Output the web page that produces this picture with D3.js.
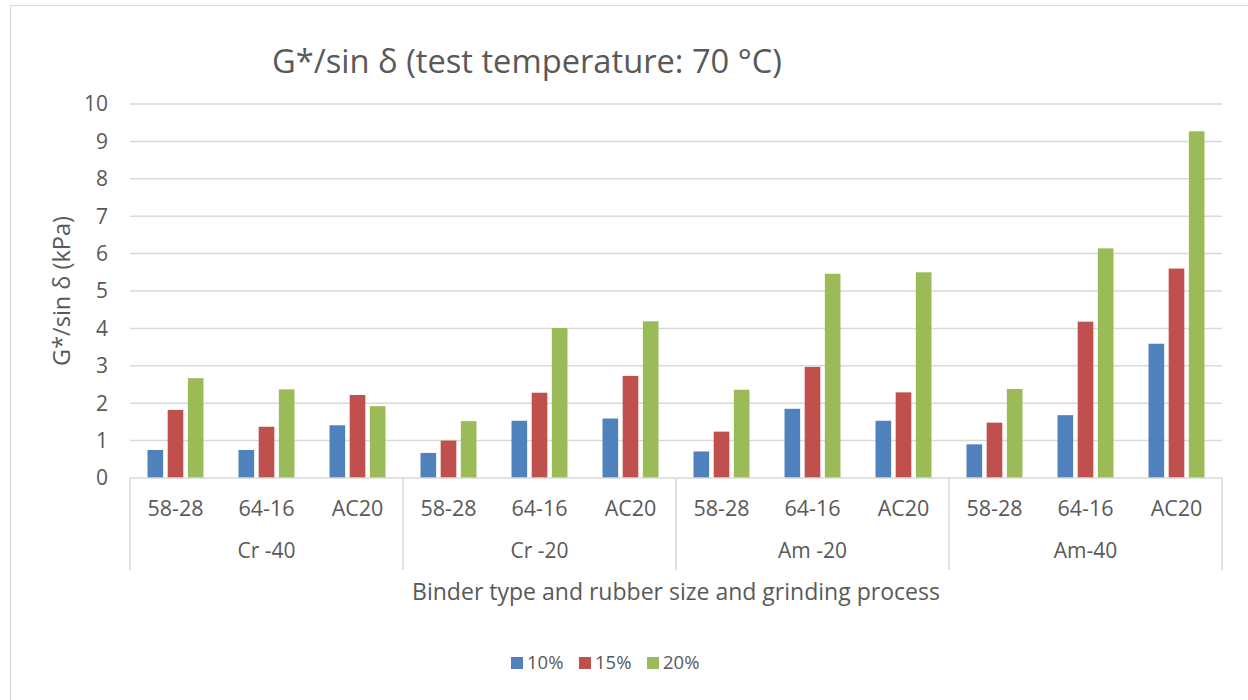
<!DOCTYPE html>
<html>
<head>
<meta charset="utf-8">
<script src="https://cdn.jsdelivr.net/npm/d3@7"></script>
<style>
  html, body { margin: 0; padding: 0; background: #fff; }
  svg { display: block; font-family: "Open Sans", "Noto Sans", sans-serif; }
</style>
</head>
<body>
<svg id="chart" width="1248" height="700"></svg>
<script>
// ---- data ----
const groups = ["Cr -40", "Cr -20", "Am -20", "Am-40"];
const binders = ["58-28", "64-16", "AC20"];
const seriesNames = ["10%", "15%", "20%"];
const seriesColors = ["#4f81bd", "#c0504d", "#9bbb59"];
// values per group, per binder (58-28, 64-16, AC20)
const values10 = [0.75, 0.75, 1.41, 0.67, 1.53, 1.59, 0.71, 1.85, 1.53, 0.90, 1.68, 3.59];
const values15 = [1.82, 1.37, 2.22, 1.00, 2.28, 2.73, 1.24, 2.97, 2.29, 1.48, 4.18, 5.60];
const values20 = [2.67, 2.37, 1.92, 1.52, 4.01, 4.19, 2.36, 5.46, 5.50, 2.38, 6.14, 9.27];
const yTicks = [0, 1, 2, 3, 4, 5, 6, 7, 8, 9, 10];
const titleText = "G*/sin δ (test temperature: 70 °C)";
const yTitle = "G*/sin δ (kPa)";
const xTitle = "Binder type and rubber size and grinding process";

// ---- layout ----
const svg = d3.select("#chart");
const textColor = "#595959";
const gridColor = "#d9d9d9";
const plot = { left: 130, right: 1222, top: 104, bottom: 478 };

const cats = [];
groups.forEach((g, gi) => binders.forEach((b, bi) => cats.push({ key: g + "|" + b, group: g, binder: b, idx: gi * 3 + bi })));
const allSeries = [values10, values15, values20];

const x = d3.scaleBand().domain(cats.map(c => c.key)).range([plot.left, plot.right]).paddingInner(0.385).paddingOuter(0.1925);
const xs = d3.scaleBand().domain(seriesNames).range([0, x.bandwidth()]).paddingInner(0.225).paddingOuter(0);
const y = d3.scaleLinear().domain([0, 10]).range([plot.bottom, plot.top]);

// outer frame
svg.append("rect").attr("x", 10.5).attr("y", 5.5).attr("width", 1250).attr("height", 700)
  .attr("fill", "none").attr("stroke", "#d9d9d9").attr("stroke-width", 1.2);

// gridlines
svg.append("g").selectAll("line").data(yTicks.filter(t => t > 0)).join("line")
  .attr("x1", plot.left).attr("x2", plot.right)
  .attr("y1", d => y(d)).attr("y2", d => y(d))
  .attr("stroke", gridColor).attr("stroke-width", 1.5);

// y tick labels
svg.append("g").selectAll("text").data(yTicks).join("text")
  .attr("x", 108).attr("y", d => y(d)).attr("dy", "0.35em")
  .attr("text-anchor", "end").attr("fill", textColor).attr("font-size", 21)
  .text(d => d);

// bars
const barG = svg.append("g");
allSeries.forEach((vals, si) => {
  barG.append("g").selectAll("rect").data(cats).join("rect")
    .attr("x", c => x(c.key) + xs(seriesNames[si]))
    .attr("width", xs.bandwidth())
    .attr("y", c => y(vals[c.idx]))
    .attr("height", c => y(0) - y(vals[c.idx]))
    .attr("fill", seriesColors[si]);
});

// category axis
const axisG = svg.append("g").attr("stroke", gridColor).attr("stroke-width", 1.5);
axisG.append("line").attr("x1", plot.left).attr("x2", plot.right).attr("y1", plot.bottom).attr("y2", plot.bottom);
const step = x.step();
const boundaries = d3.range(groups.length + 1).map(i => plot.left + i * 3 * step);
axisG.selectAll("line.sep").data(boundaries).join("line").attr("class", "sep")
  .attr("x1", d => d).attr("x2", d => d).attr("y1", plot.bottom).attr("y2", 570);

// binder labels
svg.append("g").selectAll("text").data(cats).join("text")
  .attr("x", c => x(c.key) + x.bandwidth() / 2).attr("y", 508).attr("dy", "0.35em")
  .attr("text-anchor", "middle").attr("fill", textColor).attr("font-size", 21.5)
  .text(c => c.binder);

// group labels
svg.append("g").selectAll("text").data(groups).join("text")
  .attr("x", (g, i) => (boundaries[i] + boundaries[i + 1]) / 2).attr("y", 551).attr("dy", "0.35em")
  .attr("text-anchor", "middle").attr("fill", textColor).attr("font-size", 21)
  .text(g => g);

// fit helper
function fitText(sel, targetWidth) {
  const w = sel.node().getComputedTextLength();
  const fs = parseFloat(sel.attr("font-size"));
  sel.attr("font-size", fs * targetWidth / w);
}

// title
const t = svg.append("text").attr("x", 527).attr("y", 62).attr("dy", "0.35em")
  .attr("text-anchor", "middle").attr("fill", textColor).attr("font-size", 30).text(titleText);
fitText(t, 510);

// y title
const yt = svg.append("text").attr("transform", "translate(62,291) rotate(-90)").attr("dy", "0.35em")
  .attr("text-anchor", "middle").attr("fill", textColor).attr("font-size", 20).text(yTitle);
fitText(yt, 150);

// x title
const xt = svg.append("text").attr("x", 676).attr("y", 592).attr("dy", "0.35em")
  .attr("text-anchor", "middle").attr("fill", textColor).attr("font-size", 20).text(xTitle);
fitText(xt, 528);

// legend
const legendX = [511, 579, 647];
const lg = svg.append("g").selectAll("g").data(seriesNames).join("g")
  .attr("transform", (d, i) => `translate(${legendX[i]},663)`);
lg.append("rect").attr("x", 0).attr("y", -6).attr("width", 12).attr("height", 12)
  .attr("fill", (d, i) => seriesColors[i]);
lg.append("text").attr("x", 16).attr("y", 0).attr("dy", "0.35em")
  .attr("fill", textColor).attr("font-size", 18.5).text(d => d);
</script>
</body>
</html>
